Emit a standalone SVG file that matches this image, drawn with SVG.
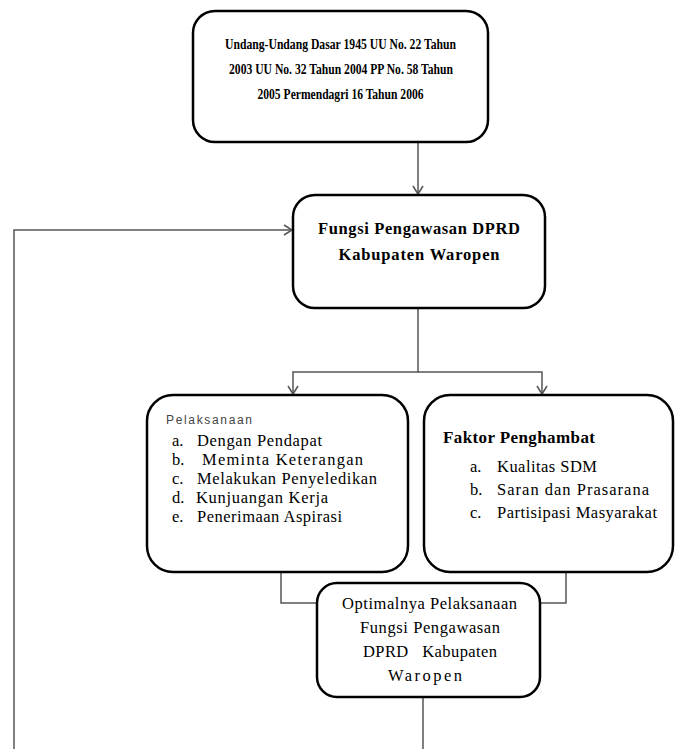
<svg xmlns="http://www.w3.org/2000/svg" width="678" height="749" viewBox="0 0 678 749">
<style>
.box{fill:#fff;stroke:#000;stroke-width:2.5}
.con{fill:none;stroke:#555;stroke-width:1.5}
.b{font-family:"Liberation Serif",serif;font-weight:bold;fill:#000}
.r{font-family:"Liberation Serif",serif;fill:#000}
.s{font-family:"Liberation Sans",sans-serif;fill:#444}
</style>
<defs>
<marker id="arr" markerWidth="12" markerHeight="12" refX="10" refY="6" orient="auto" markerUnits="userSpaceOnUse">
<path d="M2,1 L10,6 L2,11" fill="none" stroke="#555" stroke-width="1.5"/>
</marker>
</defs>
<g id="connectors">
<line class="con" x1="418" y1="143" x2="418" y2="194" marker-end="url(#arr)"/>
<polyline class="con" points="14,749 14,230 292,230" marker-end="url(#arr)"/>
<polyline class="con" points="418,308 418,372 293,372 293,394" marker-end="url(#arr)"/>
<polyline class="con" points="418,372 542,372 542,394" marker-end="url(#arr)"/>
<polyline class="con" points="281,572 281,603 317,603"/>
<polyline class="con" points="566,572 566,603 540,603"/>
<line class="con" x1="423" y1="697" x2="423" y2="749"/>
</g>
<g id="node-uud">
<rect class="box" x="193" y="11" width="295" height="131" rx="22"/>
<text class="b" font-size="15" x="340.5" y="49" text-anchor="middle" textLength="231" lengthAdjust="spacingAndGlyphs">Undang-Undang Dasar 1945 UU No. 22 Tahun</text>
<text class="b" font-size="15" x="341" y="74" text-anchor="middle" textLength="224" lengthAdjust="spacingAndGlyphs">2003 UU No. 32 Tahun 2004 PP No. 58 Tahun</text>
<text class="b" font-size="15" x="340.5" y="99" text-anchor="middle" textLength="166" lengthAdjust="spacingAndGlyphs">2005 Permendagri 16 Tahun 2006</text>
</g>
<g id="node-fungsi">
<rect class="box" x="293" y="195" width="252" height="113" rx="22"/>
<text class="b" font-size="16.5" x="419" y="234" text-anchor="middle" textLength="202">Fungsi Pengawasan DPRD</text>
<text class="b" font-size="16.5" x="419" y="260" text-anchor="middle" textLength="161">Kabupaten Waropen</text>
</g>
<g id="node-pelaksanaan">
<rect class="box" x="147" y="395" width="261" height="177" rx="26"/>
<text class="s" font-size="12" x="166" y="424" textLength="86">Pelaksanaan</text>
<g class="r" font-size="16.5">
<text x="172" y="446">a.</text><text x="197" y="446" textLength="125">Dengan Pendapat</text>
<text x="172" y="465">b.</text><text x="202" y="465" textLength="161">Meminta Keterangan</text>
<text x="172" y="484">c.</text><text x="197" y="484" textLength="180">Melakukan Penyeledikan</text>
<text x="172" y="503">d.</text><text x="196" y="503" textLength="132">Kunjuangan Kerja</text>
<text x="172" y="522">e.</text><text x="197" y="522" textLength="145">Penerimaan Aspirasi</text>
</g>
</g>
<g id="node-faktor">
<rect class="box" x="424" y="395" width="249" height="177" rx="26"/>
<text class="b" font-size="17" x="443" y="443" textLength="152">Faktor Penghambat</text>
<g class="r" font-size="16.5">
<text x="470" y="472">a.</text><text x="497" y="472" textLength="100">Kualitas SDM</text>
<text x="470" y="495">b.</text><text x="497" y="495" textLength="152">Saran dan Prasarana</text>
<text x="470" y="518">c.</text><text x="497" y="518" textLength="160">Partisipasi Masyarakat</text>
</g>
</g>
<g id="node-optimal">
<rect class="box" x="317" y="583" width="223" height="114" rx="20"/>
<g class="r" font-size="16.5" text-anchor="middle">
<text x="429.5" y="609" textLength="175">Optimalnya Pelaksanaan</text>
<text x="430" y="633" textLength="140">Fungsi Pengawasan</text>
<text x="430" y="657" textLength="134" xml:space="preserve">DPRD   Kabupaten</text>
<text x="425" y="681" textLength="74">Waropen</text>
</g>
</g>
</svg>
